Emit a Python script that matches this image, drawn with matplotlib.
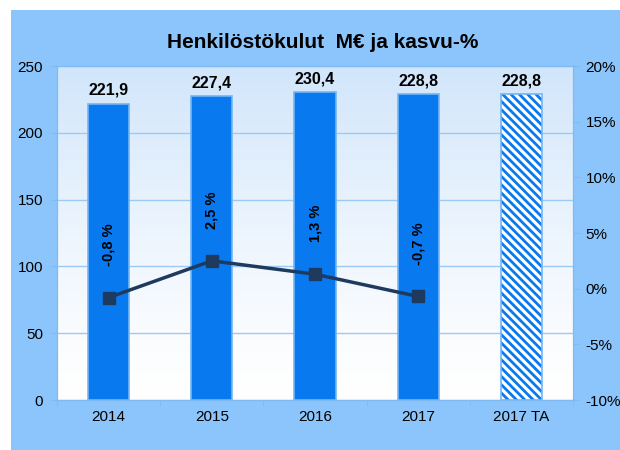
import matplotlib.pyplot as plt
import matplotlib.patches as mpatches
import numpy as np

plt.rcParams['font.family'] = ['Liberation Sans', 'DejaVu Sans']
plt.rcParams['hatch.linewidth'] = 2.0

# data
categories = ['2014', '2015', '2016', '2017', '2017 TA']
costs = [221.9, 227.4, 230.4, 228.8, 228.8]
growth = [-0.8, 2.5, 1.3, -0.7]
cost_labels = ['221,9', '227,4', '230,4', '228,8', '228,8']
growth_labels = ['-0,8 %', '2,5 %', '1,3 %', '-0,7 %']

bar_col = '#0879ef'
edge_col = '#74b6f6'
spine_col = '#7fbbf3'
bg_col = '#8cc5fb'
line_col = '#1e3a5f'

fig = plt.figure(figsize=(6.2, 4.5), dpi=100)
fig.patch.set_facecolor('white')
fig.patches.append(mpatches.Rectangle((11 / 620, 0), 1, 1 - 10 / 450,
                                      transform=fig.transFigure,
                                      facecolor=bg_col, edgecolor='none', zorder=-10))

ax = fig.add_axes([57 / 620, 50 / 450, 516 / 620, 334 / 450])
ax.set_facecolor('none')

# gradient background of plot area
grad = np.linspace(0, 1, 256)
top = np.array([0.82, 0.90, 0.985])
bottom = np.array([1.0, 1.0, 1.0])
img = bottom + (top - bottom) * grad[:, None] ** 1.3
img = img.reshape(256, 1, 3)
ax.imshow(img, extent=[0, 1, 0, 1], transform=ax.transAxes, origin='lower',
          aspect='auto', zorder=0)

x = np.arange(len(categories))
ax.set_xlim(-0.5, len(categories) - 0.5)
ax.set_ylim(0, 250)
ax.set_yticks(range(0, 251, 50))
ax.set_axisbelow(True)
ax.grid(axis='y', color='#9ccaf5', linewidth=1)

ax.bar(x[:4], costs[:4], width=0.4, color=bar_col, edgecolor=edge_col,
       linewidth=1.2, zorder=2)
ax.bar(x[4], costs[4], width=0.4, color='white', edgecolor=bar_col,
       hatch='\\\\\\\\', linewidth=0, zorder=2)
ax.bar(x[4], costs[4], width=0.4, color='none', edgecolor=edge_col,
       linewidth=1.2, zorder=2.1)

for xi, v, lab in zip(x, costs, cost_labels):
    ax.annotate(lab, (xi, v), xytext=(0, 4), textcoords='offset points',
                ha='center', va='bottom', fontsize=11.5, fontweight='bold', zorder=5)

ax.set_xticks(x)
ax.set_xticklabels(categories, fontsize=11)
ax.set_xticks(np.arange(-0.5, len(categories)), minor=True)
ax.tick_params(axis='x', which='major', length=0, pad=7)
ax.tick_params(axis='x', which='minor', length=4, color=spine_col)
ax.tick_params(axis='y', length=4, color=spine_col, labelsize=11, pad=6)

for s in ax.spines.values():
    s.set_color(spine_col)

ax2 = ax.twinx()
ax2.set_ylim(-10, 20)
ax2.set_yticks(range(-10, 21, 5))
ax2.set_yticklabels([f'{t}%' for t in range(-10, 21, 5)])
ax2.tick_params(axis='y', length=4, color=spine_col, labelsize=11, pad=5)
for s in ax2.spines.values():
    s.set_color(spine_col)

ax2.plot(x[:4], growth, color=line_col, linewidth=2.5, marker='s',
         markersize=8, zorder=4)
for xi, v, lab in zip(x[:4], growth, growth_labels):
    ax2.annotate(lab, (xi, v), xytext=(0, 23), textcoords='offset points',
                 ha='center', va='bottom', rotation=90, fontsize=10.5,
                 fontweight='bold', zorder=5)

fig.text(323 / 620, 1 - 42 / 450, 'Henkilöstökulut  M€ ja kasvu-%',
         ha='center', va='center', fontsize=15, fontweight='bold')

fig.savefig('out.png', dpi=100)
